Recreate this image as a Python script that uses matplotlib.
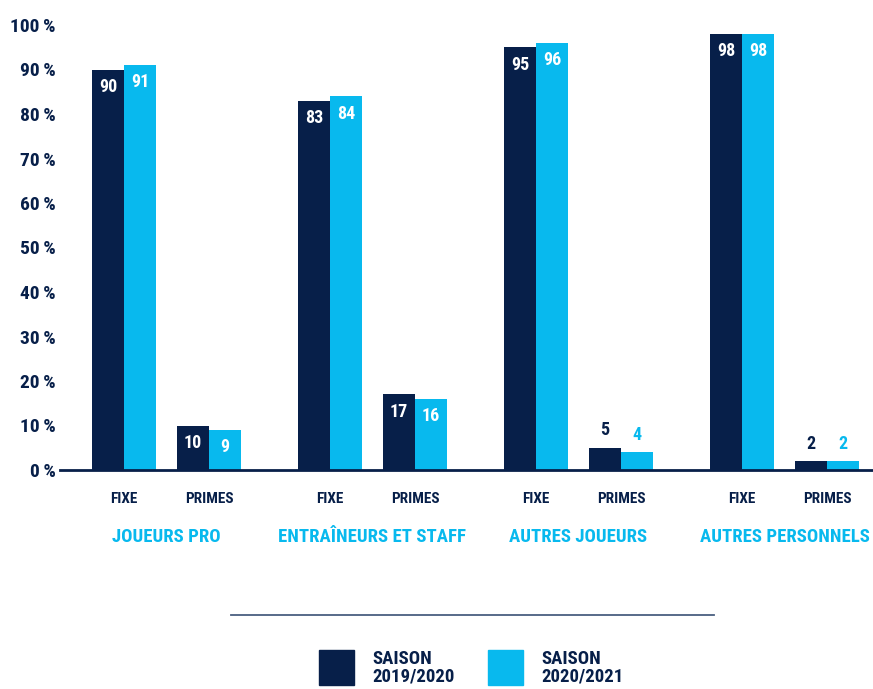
import matplotlib
matplotlib.use("Agg")
import matplotlib.pyplot as plt
from matplotlib import font_manager
from matplotlib.patches import Rectangle
from matplotlib.lines import Line2D
import numpy as np

groups = ["JOUEURS PRO", "ENTRAÎNEURS ET STAFF", "AUTRES JOUEURS", "AUTRES PERSONNELS"]
types = ["FIXE", "PRIMES"]
series = ["SAISON\n2019/2020", "SAISON\n2020/2021"]
# values per group: [FIXE, PRIMES]
s2019 = [[90, 10], [83, 17], [95, 5], [98, 2]]
s2020 = [[91, 9], [84, 16], [96, 4], [98, 2]]
yticks = [0, 10, 20, 30, 40, 50, 60, 70, 80, 90, 100]

navy = "#071f49"
cyan = "#08b9ee"

names = {f.name for f in font_manager.fontManager.ttflist}
fam = "DejaVu Sans"
for cand in ["Liberation Sans Narrow", "Roboto Condensed", "Roboto", "Liberation Sans"]:
    if cand in names:
        fam = cand
        break
plt.rcParams["font.family"] = [fam, "DejaVu Sans"]
plt.rcParams["font.weight"] = "bold"

W, H = 873, 689
fig = plt.figure(figsize=(W / 100, H / 100), dpi=100)
ax = fig.add_axes([60 / W, 219 / H, (873 - 60) / W, 445 / H])

gstep = 206 / 85
bw = 32 / 85
for g in range(len(groups)):
    for k in range(len(types)):
        xc = g * gstep + k
        for j, (vals, col) in enumerate([(s2019, navy), (s2020, cyan)]):
            v = vals[g][k]
            x = xc - bw / 2 + j * bw
            ax.bar(x, v, width=bw, color=col, linewidth=0)
            if v >= 9:
                ax.annotate(str(v), (x, v), xytext=(0, -6), textcoords="offset points",
                            ha="center", va="top", color="white", fontsize=13, fontweight="bold")
            else:
                ax.annotate(str(v), (x, v), xytext=(0, 6), textcoords="offset points",
                            ha="center", va="bottom", color=col, fontsize=13, fontweight="bold")
        ax.text(xc, -6.5, types[k], ha="center", va="center", color=navy, fontsize=11,
                fontweight="bold")
    ax.text(g * gstep + 0.5, -15, groups[g], ha="center", va="center", color=cyan,
            fontsize=13.5, fontweight="bold")

ax.set_xlim((60 - 124) / 85, (873 - 124) / 85)
ax.set_ylim(0, 100)
ax.set_yticks(yticks)
ax.set_yticklabels([f"{t}\u2009%" for t in yticks], color=navy, fontsize=14, fontweight="bold")
ax.tick_params(axis="y", length=0, pad=3)
ax.set_xticks([])
for s in ["top", "right", "left"]:
    ax.spines[s].set_visible(False)
ax.spines["bottom"].set_color(navy)
ax.spines["bottom"].set_linewidth(2)

# separator line
fig.add_artist(Line2D([231 / W, 714 / W], [1 - 615 / H, 1 - 615 / H], color="#4a5f80", lw=1.3))

# legend
for x0, col, lab in [(319, navy, series[0]), (488, cyan, series[1])]:
    fig.add_artist(Rectangle((x0 / W, 1 - 685 / H), 35 / W, 35 / H, color=col,
                             transform=fig.transFigure))
    fig.text((x0 + 53) / W, 1 - 668 / H, lab, ha="left", va="center", color=navy,
             fontsize=13.5, fontweight="bold", linespacing=0.95)

fig.savefig("out.png", dpi=100)
